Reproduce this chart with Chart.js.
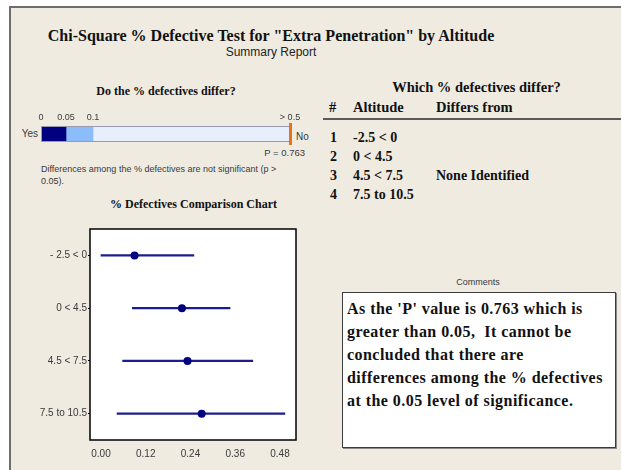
<!DOCTYPE html>
<html>
<head>
<meta charset="utf-8">
<script src="https://cdn.jsdelivr.net/npm/chart.js@4/dist/chart.umd.min.js"></script>
<style>
  html, body { margin: 0; padding: 0; width: 621px; height: 470px; overflow: hidden; background: #ffffff; }
  #panel { position: absolute; left: 9px; top: 6px; width: 700px; height: 520px;
           background: #efebe1; border-left: 2px solid #6e6e6e; border-top: 2px solid #6e6e6e; }
  .t { position: absolute; white-space: nowrap; line-height: 1; }
  .serif { font-family: "Liberation Serif", "Times New Roman", serif; font-weight: bold; color: #111; }
  .sans { font-family: "Liberation Sans", Arial, sans-serif; color: #3a3a3a; }
  canvas { position: absolute; }
  #rule { position: absolute; left: 323px; top: 118px; width: 320px; height: 0; border-top: 2px solid #5a5a5a; }
  #commentBox { position: absolute; left: 342px; top: 292px; width: 272px; height: 154px;
                background: #ffffff; border: 1px solid #3c3c3c; box-shadow: 1px 1px 0 #8a8a8a; }
  #commentText { left: 347px; top: 297px; font-size: 16px; line-height: 23px; letter-spacing: 0.45px; }
</style>
</head>
<body>
<div id="panel"></div>

<div class="t serif" style="left:0; width:542px; text-align:center; top:28px; font-size:16px;">Chi-Square % Defective Test for "Extra Penetration" by Altitude</div>
<div class="t sans" style="left:0; width:542px; text-align:center; top:46px; font-size:12px; color:#222;">Summary Report</div>

<div class="t serif" style="left:0; width:332px; text-align:center; top:85px; font-size:12px;">Do the % defectives differ?</div>
<div class="t sans" style="right:583px; top:129px; font-size:10px;">Yes</div>
<div class="t sans" style="left:296px; top:132px; font-size:10px;">No</div>
<div class="t sans" id="pLabel" style="right:316px; top:148px; font-size:9.5px;"></div>
<div class="t sans" style="left:41px; top:163px; font-size:9px; line-height:12px;">Differences among the % defectives are not significant (p &gt;<br>0.05).</div>
<div class="t serif" style="left:0; width:387px; text-align:center; top:198px; font-size:12px;">% Defectives Comparison Chart</div>

<div class="t serif" style="left:330px; width:293px; text-align:center; top:80px; font-size:14.5px;">Which % defectives differ?</div>
<div class="t serif" style="left:329px; top:100px; font-size:14.5px;">#</div>
<div class="t serif" style="left:353px; top:100px; font-size:14.5px;">Altitude</div>
<div class="t serif" style="left:436px; top:100px; font-size:14.5px;">Differs from</div>
<div id="rule"></div>
<div id="groupRows"></div>

<div class="t sans" style="left:428px; width:100px; text-align:center; top:278px; font-size:9px;">Comments</div>
<div id="commentBox"></div>
<div class="t serif" id="commentText">As the 'P' value is 0.763 which is<br>greater than 0.05,&nbsp; It cannot be<br>concluded that there are<br>differences among the % defectives<br>at the 0.05 level of significance.</div>

<canvas id="pBar" width="290" height="45" style="left:20px; top:105px;"></canvas>
<canvas id="compare" width="290" height="250" style="left:20px; top:220px;"></canvas>

<script>
// Altitude groups and their % defective estimates with interval bounds
const altitudeGroups = ['- 2.5 < 0', '0 < 4.5', '4.5 < 7.5', '7.5 to 10.5'];
const pctDefective = [0.090, 0.217, 0.232, 0.270];
const ciLower = [0.000, 0.084, 0.058, 0.043];
const ciUpper = [0.249, 0.346, 0.407, 0.493];
const compareTicks = [0, 0.12, 0.24, 0.36, 0.48];

// Test result and the p-value band boundaries
const pValue = 0.763;
const pBreaks = [0, 0.05, 0.1, 0.5];
const differsFrom = ['', '', 'None Identified', ''];

document.getElementById('pLabel').textContent = 'P = ' + pValue.toFixed(3);

// Table of groups
const rowsHost = document.getElementById('groupRows');
const rowTops = [131, 150, 169, 188];
altitudeGroups.forEach((g, i) => {
  const n = document.createElement('div');
  n.className = 't serif'; n.style.cssText = `left:330px; top:${rowTops[i]}px; font-size:14px;`;
  n.textContent = String(i + 1);
  rowsHost.appendChild(n);
  const a = document.createElement('div');
  a.className = 't serif'; a.style.cssText = `left:353px; top:${rowTops[i]}px; font-size:14px;`;
  a.textContent = g.replace('- ', '-');
  rowsHost.appendChild(a);
  if (differsFrom[i]) {
    const d = document.createElement('div');
    d.className = 't serif'; d.style.cssText = `left:436px; top:${rowTops[i]}px; font-size:14px;`;
    d.textContent = differsFrom[i];
    rowsHost.appendChild(d);
  }
});

// Non-linear p-value axis: each band gets its own share of the width
const bandFractions = [0, 0.1004, 0.2088, 1];
class PiecewiseScale extends Chart.LinearScale {
  getPixelForValue(value) {
    const v = Math.max(pBreaks[0], Math.min(pBreaks[pBreaks.length - 1], value));
    let i = 0;
    while (i < pBreaks.length - 2 && v > pBreaks[i + 1]) i++;
    const t = (v - pBreaks[i]) / (pBreaks[i + 1] - pBreaks[i]);
    const dec = bandFractions[i] + t * (bandFractions[i + 1] - bandFractions[i]);
    return this.getPixelForDecimal(dec);
  }
}
PiecewiseScale.id = 'piecewise';
PiecewiseScale.defaults = Chart.LinearScale.defaults;
Chart.register(PiecewiseScale);

const bandColors = ['#000080', '#8cbcfa', '#e6effb'];

const pBarFrame = {
  id: 'pBarFrame',
  afterDatasetsDraw(chart) {
    const { ctx, chartArea: ca, scales: { x } } = chart;
    const x0 = x.getPixelForValue(pBreaks[0]);
    const x1 = x.getPixelForValue(pBreaks[pBreaks.length - 1]);
    ctx.save();
    ctx.strokeStyle = '#9a9aae';
    ctx.lineWidth = 1;
    ctx.strokeRect(x0 + 0.5, ca.top + 0.5, x1 - x0 - 1, ca.bottom - ca.top - 1);
    const px = x.getPixelForValue(Math.min(pValue, pBreaks[pBreaks.length - 1]));
    ctx.fillStyle = '#e8721c';
    ctx.fillRect(px - 1, ca.top - 3, 3, ca.bottom - ca.top + 6);
    ctx.restore();
  }
};

new Chart(document.getElementById('pBar'), {
  type: 'bar',
  data: {
    labels: ['p'],
    datasets: pBreaks.slice(0, -1).map((b, i) => ({
      data: [[b, pBreaks[i + 1]]],
      backgroundColor: bandColors[i],
      borderWidth: 0,
      grouped: false,
      barPercentage: 1,
      categoryPercentage: 1
    }))
  },
  options: {
    indexAxis: 'y',
    responsive: false,
    animation: false,
    devicePixelRatio: 1,
    layout: { padding: { left: 21, right: 20, top: 0, bottom: 8 } },
    plugins: { legend: { display: false }, tooltip: { enabled: false } },
    scales: {
      x: {
        type: 'piecewise',
        position: 'top',
        min: pBreaks[0],
        max: pBreaks[pBreaks.length - 1],
        grid: { display: false, drawTicks: false },
        border: { display: false },
        afterBuildTicks: s => { s.ticks = pBreaks.map(v => ({ value: v })); },
        afterFit: s => { s.height = 21; },
        ticks: {
          padding: 3,
          autoSkip: false,
          maxRotation: 0,
          color: '#3a3a3a',
          font: { family: 'Liberation Sans', size: 9 },
          callback: v => (v === pBreaks[pBreaks.length - 1] ? '> ' + v : String(v))
        }
      },
      y: { display: false }
    }
  },
  plugins: [pBarFrame]
});

// White plotting area with a black frame
const plotFrame = {
  id: 'plotFrame',
  beforeDatasetsDraw(chart) {
    const { ctx, chartArea: ca } = chart;
    ctx.save();
    ctx.fillStyle = '#ffffff';
    ctx.fillRect(ca.left, ca.top, ca.right - ca.left, ca.bottom - ca.top);
    ctx.restore();
  },
  afterDatasetsDraw(chart) {
    const { ctx, chartArea: ca } = chart;
    ctx.save();
    ctx.strokeStyle = '#000000';
    ctx.lineWidth = 1.5;
    ctx.strokeRect(ca.left, ca.top, ca.right - ca.left, ca.bottom - ca.top);
    ctx.restore();
  }
};

new Chart(document.getElementById('compare'), {
  type: 'bar',
  data: {
    labels: altitudeGroups,
    datasets: [
      {
        type: 'bar',
        indexAxis: 'y',
        order: 1,
        data: ciLower.map((lo, i) => [lo, ciUpper[i]]),
        backgroundColor: '#1c1c8e',
        borderWidth: 0,
        barThickness: 1.5
      },
      {
        type: 'line',
        indexAxis: 'y',
        order: 0,
        data: pctDefective,
        showLine: false,
        pointRadius: 4,
        pointBackgroundColor: '#000080',
        pointBorderWidth: 0
      }
    ]
  },
  options: {
    indexAxis: 'y',
    responsive: false,
    animation: false,
    devicePixelRatio: 1,
    layout: { padding: { left: 0, right: 14, top: 9, bottom: 0 } },
    plugins: { legend: { display: false }, tooltip: { enabled: false } },
    scales: {
      x: {
        type: 'linear',
        min: -0.0295,
        max: 0.5229,
        grid: { display: false, drawTicks: false },
        border: { display: false },
        afterBuildTicks: s => { s.ticks = compareTicks.map(v => ({ value: v })); },
        afterFit: s => { s.height = 30; },
        ticks: {
          padding: 8,
          autoSkip: false,
          maxRotation: 0,
          color: '#3a3a3a',
          font: { family: 'Liberation Sans', size: 10 },
          callback: v => v.toFixed(2)
        }
      },
      y: {
        type: 'category',
        offset: true,
        grid: { display: true, drawOnChartArea: false, offset: false, tickLength: 2, color: '#000000' },
        border: { display: false },
        afterFit: s => { s.width = 70; },
        ticks: {
          padding: 1,
          color: '#3a3a3a',
          font: { family: 'Liberation Sans', size: 10 }
        }
      }
    }
  },
  plugins: [plotFrame]
});
</script>
</body>
</html>
